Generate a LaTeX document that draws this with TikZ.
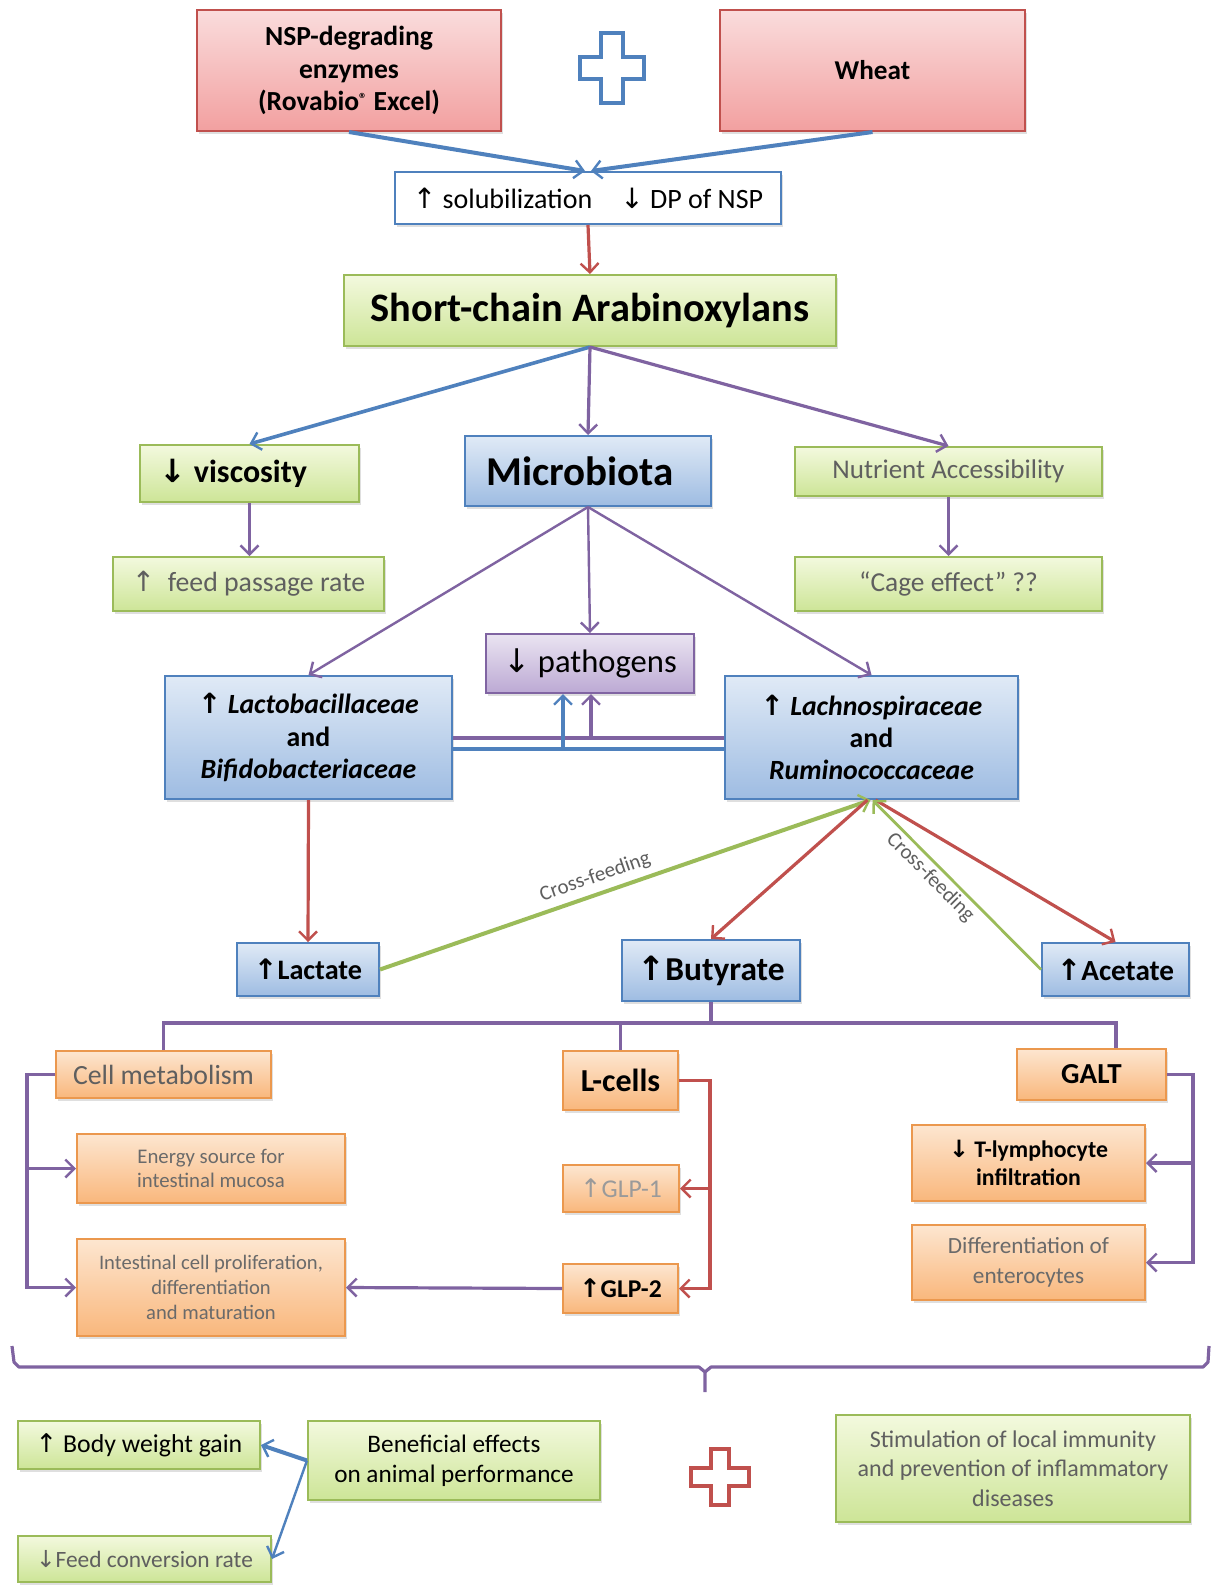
\documentclass[tikz,border=0pt]{standalone}
\usepackage{fontspec}
\setmainfont{Carlito}
\newfontfamily\arrf{DejaVu Sans}
\usetikzlibrary{arrows.meta,shadows,calc}

\definecolor{pinkT}{HTML}{FADCDC}
\definecolor{pinkB}{HTML}{F2A0A0}
\definecolor{pinkD}{HTML}{C0504D}
\definecolor{grnT}{HTML}{F3F9DE}
\definecolor{grnB}{HTML}{CDE597}
\definecolor{grnD}{HTML}{9BBB59}
\definecolor{bluT}{HTML}{E0EAF6}
\definecolor{bluB}{HTML}{9EBCE2}
\definecolor{bluD}{HTML}{4F81BD}
\definecolor{orgT}{HTML}{FDE6D0}
\definecolor{orgB}{HTML}{F9B77C}
\definecolor{orgD}{HTML}{EB984E}
\definecolor{purT}{HTML}{EAE4F1}
\definecolor{purB}{HTML}{BCA9D4}
\definecolor{purD}{HTML}{8064A2}
\definecolor{lblue}{HTML}{4F81BD}
\definecolor{lpurp}{HTML}{7F63A1}
\definecolor{lred}{HTML}{C0504D}
\definecolor{lgreen}{HTML}{9BBB59}
\definecolor{gtxt}{HTML}{5F5F5F}
\definecolor{gtxt2}{HTML}{6A6A6A}
\definecolor{lgray}{HTML}{9A9A9A}

\newcommand\fs[2]{\fontsize{#1}{#2}\selectfont}
\newcommand\ua{{\arrf\mdseries ↑}}
\newcommand\da{{\arrf\mdseries ↓}}
\newcommand\bua{{\arrf\bfseries ↑}}
\newcommand\bda{{\arrf\bfseries ↓}}
\newcommand\bx[7]{\node[#6, minimum width={(#4-#2)*0.5pt}, minimum height={(#5-#3)*0.5pt}] (#1) at ({(#2+#4)/2},{(#3+#5)/2}) {#7};}

\tikzset{
  base/.style={rectangle, align=center, inner sep=1pt, line width=1pt,
    drop shadow={shadow xshift=1.2pt, shadow yshift=-1.5pt, opacity=0.25}},
  pinkbox/.style={base, draw=pinkD, top color=pinkT, bottom color=pinkB},
  greenbox/.style={base, draw=grnD, top color=grnT, bottom color=grnB},
  bluebox/.style={base, draw=bluD, top color=bluT, bottom color=bluB},
  orangebox/.style={base, draw=orgD, top color=orgT, bottom color=orgB},
  purpbox/.style={base, draw=purD, top color=purT, bottom color=purB},
  whitebox/.style={base, draw=bluD, fill=white},
  tip/.style={-{Straight Barb[length=4.5pt, width=9pt, line width=1.2pt]}},
  bA/.style={draw=lblue, line width=1.8pt, tip},
  pA/.style={draw=lpurp, line width=1.6pt, tip},
  pL/.style={draw=lpurp, line width=1.6pt},
  rA/.style={draw=lred, line width=1.6pt, tip},
  gA/.style={draw=lgreen, line width=1.8pt, tip},
  cf/.style={font=\fs{10.5}{12}, text=gtxt, inner sep=3pt},
}

\begin{document}
\begin{tikzpicture}[x=0.5pt, y=-0.5pt]
\useasboundingbox[fill=white] (0,0) rectangle (1212,1585);

% ---------- nodes ----------
\bx{nsp}{197}{10}{501}{131}{pinkbox,font=\fs{13.8}{16.2}\bfseries}{NSP-degrading\\enzymes\\(Rovabio\raisebox{0.45ex}{\fs{8}{8}®} Excel)}
\bx{wheat}{720}{10}{1025}{131}{pinkbox,font=\fs{13.6}{16}\bfseries}{Wheat}
\bx{sol}{395}{172}{781}{224}{whitebox,font=\fs{14}{16}}{\ua\ solubilization\quad \da\ DP of NSP}
\bx{sca}{344}{275}{836}{346}{greenbox,font=\fs{20.2}{24}\bfseries}{Short-chain Arabinoxylans}
\bx{visc}{140}{445}{359}{502}{greenbox,font=\fs{16}{19}\bfseries}{\bda\ viscosity\hspace*{16pt}}
\bx{micro}{465}{436}{711}{506}{bluebox,font=\fs{20.5}{24}\bfseries}{Microbiota\hspace*{8pt}}
\bx{nutr}{795}{447}{1102}{496}{greenbox,font=\fs{13.5}{15},text=gtxt}{Nutrient Accessibility}
\bx{feed}{113}{557}{384}{611}{greenbox,font=\fs{13.9}{16},text=gtxt}{\ua\ \ feed passage rate}
\bx{cage}{795}{557}{1102}{611}{greenbox,font=\fs{13.7}{15},text=gtxt}{“Cage effect” ??}
\bx{path}{486}{634}{694}{693}{purpbox,font=\fs{16.3}{18}}{\da\ pathogens}
\bx{lacto}{165}{676}{452}{799}{bluebox,font=\fs{13.9}{16.2}\bfseries}{\bua\ \textit{Lactobacillaceae}\\and\\\textit{Bifidobacteriaceae}}
\bx{lachno}{725}{676}{1018}{799}{bluebox,font=\fs{13.9}{16.2}\bfseries}{\bua\ \textit{Lachnospiraceae}\\and\\\textit{Ruminococcaceae}}
\bx{lact}{237}{943}{379}{996}{bluebox,font=\fs{14.1}{16}\bfseries}{\bua Lactate}
\bx{buty}{622}{940}{800}{1001}{bluebox,font=\fs{16.7}{18}\bfseries}{\bua Butyrate}
\bx{acet}{1042}{943}{1189}{996}{bluebox,font=\fs{14.6}{16}\bfseries}{\bua Acetate}
\bx{cellm}{56}{1051}{271}{1098}{orangebox,font=\fs{13.9}{16},text=gtxt}{Cell metabolism}
\bx{lcell}{563}{1051}{678}{1110}{orangebox,font=\fs{16}{18}\bfseries}{L-cells}
\bx{galt}{1017}{1049}{1166}{1100}{orangebox,font=\fs{14.5}{16}\bfseries}{GALT}
\bx{energy}{77}{1134}{345}{1203}{orangebox,font=\fs{10.4}{11.8},text=gtxt2}{Energy source for\\intestinal mucosa}
\bx{intp}{77}{1239}{345}{1336}{orangebox,font=\fs{10.3}{12.4},text=gtxt2}{Intestinal cell proliferation,\\differentiation\\and maturation}
\bx{glp1}{563}{1165}{679}{1212}{orangebox,font=\fs{12.8}{14},text=lgray}{\ua GLP-1}
\bx{glp2}{563}{1264}{678}{1313}{orangebox,font=\fs{12.8}{14}\bfseries}{\bua GLP-2}
\bx{tly}{912}{1125}{1145}{1201}{orangebox,font=\fs{11.9}{14}\bfseries}{\bda\ T-lymphocyte\\infiltration}
\bx{diff}{912}{1225}{1145}{1300}{orangebox,font=\fs{11.6}{14.7},text=gtxt2}{Differentiation of\\enterocytes}
\bx{bwg}{18}{1421}{260}{1469}{greenbox,font=\fs{12.9}{15}}{\ua\ Body weight gain}
\bx{fcr}{18}{1536}{271}{1582}{greenbox,font=\fs{11.7}{14},text=gtxt}{\da Feed conversion rate}
\bx{ben}{308}{1421}{600}{1500}{greenbox,font=\fs{12.6}{15}}{Beneficial effects\\on animal performance}
\bx{stim}{836}{1415}{1190}{1522}{greenbox,font=\fs{12}{14.7},text=gtxt}{Stimulation of local immunity\\and prevention of inflammatory\\diseases}

% ---------- plus signs ----------
\draw[lblue, line width=2pt, fill=white]
  (601,33) -- (623,33) -- (623,57) -- (644,57) -- (644,79) -- (623,79) -- (623,103)
  -- (601,103) -- (601,79) -- (580,79) -- (580,57) -- (601,57) -- cycle;
\draw[lred, line width=1.6pt, fill=white]
  (711,1449) -- (729,1449) -- (729,1468) -- (749,1468) -- (749,1486) -- (729,1486) -- (729,1505)
  -- (711,1505) -- (711,1486) -- (691,1486) -- (691,1468) -- (711,1468) -- cycle;

% ---------- connectors ----------
\draw[bA, line width=2pt] (nsp.south) -- ($(sol.north)+(-3,0)$);
\draw[bA, line width=2pt] (wheat.south) -- ($(sol.north)+(3,0)$);
\draw[rA] (sol.south) -- (sca.north);
\draw[bA] (sca.south) -- (visc.north);
\draw[pA] (sca.south) -- (micro.north);
\draw[pA] (sca.south) -- (nutr.north);
\draw[pA] (visc.south) -- (visc.south |- feed.north);
\draw[pA] (nutr.south) -- (cage.north);
\draw[pA, line width=1.2pt] (micro.south) -- (lacto.north);
\draw[pA, line width=1.2pt] (micro.south) -- (path.north);
\draw[pA, line width=1.2pt] (micro.south) -- (lachno.north);

\coordinate (pl) at (591,738);
\coordinate (bl) at (563,749);
\draw[pL] (lacto.east |- pl) -- (lachno.west |- pl);
\draw[draw=lblue, line width=1.6pt] (lacto.east |- bl) -- (lachno.west |- bl);
\draw[bA, line width=1.6pt] (bl) -- (bl |- path.south);
\draw[pA] (pl) -- (pl |- path.south);

\draw[rA] (lacto.south) -- (lact.north);
\draw[gA, line width=2pt] (lact.east) -- node[sloped, above, pos=0.45, cf] {Cross-feeding} ($(lachno.south)+(-1,0)$);
\draw[rA] ($(lachno.south)+(-4,0)$) -- (buty.north);
\draw[rA] ($(lachno.south)+(4,0)$) -- (acet.north);
\draw[gA, line width=1.4pt] (acet.west) -- node[sloped, below, pos=0.6, cf, inner sep=1.5pt] {Cross-feeding} ($(lachno.south)+(1,0)$);

\coordinate (hb) at (0,1023);
\coordinate (gv) at (1116,1023);
\draw[pL] (buty.south) -- (buty.south |- hb);
\draw[pL] (cellm.north) |- (gv) -- (gv |- galt.north);
\draw[pL] (lcell.north) -- (lcell.north |- hb);

\coordinate (lv) at (27,0);
\draw[pA] (cellm.west) -| (lv |- intp.west) -- (intp.west);
\draw[pA] (lv |- energy.west) -- (energy.west);

\coordinate (rv) at (710,0);
\draw[rA] (lcell.east) -| (rv |- glp2.east) -- (glp2.east);
\draw[rA] (rv |- glp1.east) -- (glp1.east);

\coordinate (gr) at (1193,0);
\draw[pA] (galt.east) -| (gr |- diff.east) -- (diff.east);
\draw[pA] (gr |- tly.east) -- (tly.east);

\draw[pA] (glp2.west) -- (intp.east);

% ---------- brace ----------
\draw[lpurp, line width=1.6pt, line join=round]
  (12,1346) -- (14,1362) -- (19,1367) -- (699,1367) -- (705,1372) -- (705,1392);
\draw[lpurp, line width=1.6pt, line join=round]
  (705,1372) -- (711,1367) -- (1203,1367) -- (1208,1362) -- (1209,1346);

% ---------- bottom arrows ----------
\draw[bA, line width=2pt] (ben.west) -- (bwg.east);
\draw[bA, line width=1.2pt] (ben.west) -- (fcr.east);
\end{tikzpicture}
\end{document}
